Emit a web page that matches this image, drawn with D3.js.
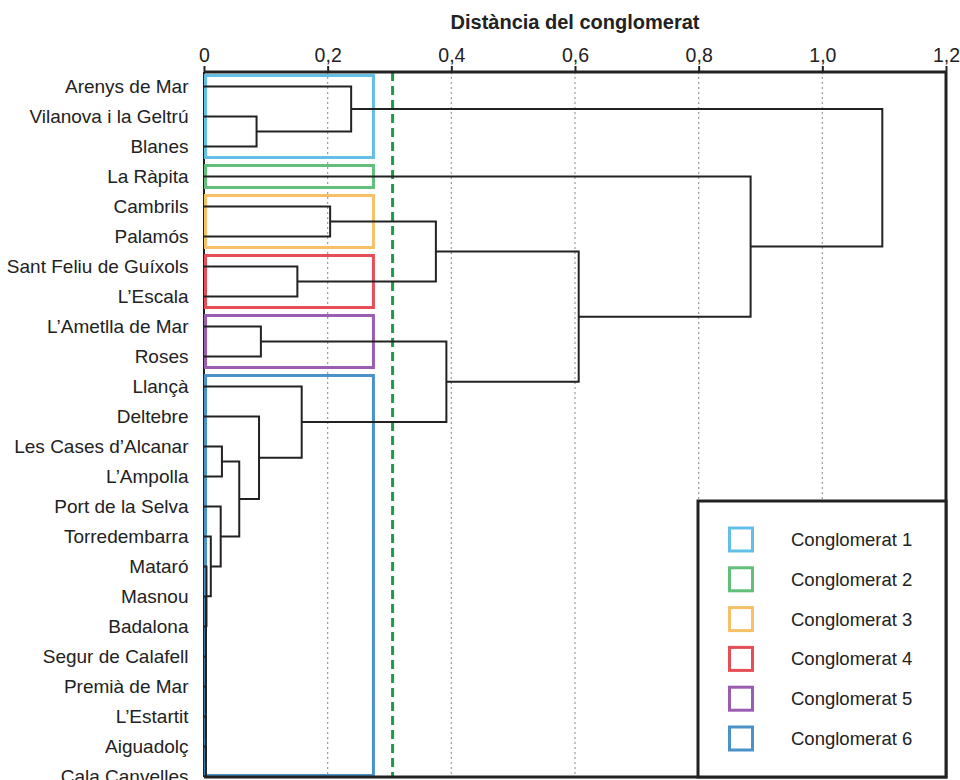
<!DOCTYPE html>
<html>
<head>
<meta charset="utf-8">
<script src="https://cdn.jsdelivr.net/npm/d3@7"></script>
<style>
  body { margin: 0; background: #fff; }
  text { font-family: "Liberation Sans", Arial, sans-serif; fill: #222; }
</style>
</head>
<body>
<svg id="chart" width="960" height="780"></svg>
<script>
// Municipalities in dendrogram order (top to bottom)
const leaves = [
  "Arenys de Mar", "Vilanova i la Geltrú", "Blanes", "La Ràpita", "Cambrils",
  "Palamós", "Sant Feliu de Guíxols", "L’Escala", "L’Ametlla de Mar", "Roses",
  "Llançà", "Deltebre", "Les Cases d’Alcanar", "L’Ampolla", "Port de la Selva",
  "Torredembarra", "Mataró", "Masnou", "Badalona", "Segur de Calafell",
  "Premià de Mar", "L’Estartit", "Aiguadolç", "Cala Canvelles"
];

// Agglomeration steps: [member A, member B, distance]; "n<i>" is the i-th step
const joins = [
  ["Aiguadolç", "Cala Canvelles", 0.003],
  ["L’Estartit", "n0", 0.003],
  ["Premià de Mar", "n1", 0.003],
  ["Segur de Calafell", "n2", 0.003],
  ["Badalona", "n3", 0.003],
  ["Masnou", "n4", 0.003],
  ["Mataró", "n5", 0.004],
  ["Torredembarra", "n6", 0.011],
  ["Port de la Selva", "n7", 0.027],
  ["Les Cases d’Alcanar", "L’Ampolla", 0.029],
  ["n9", "n8", 0.057],
  ["Deltebre", "n10", 0.089],
  ["Llançà", "n11", 0.158],
  ["L’Ametlla de Mar", "Roses", 0.092],
  ["n13", "n12", 0.392],
  ["Sant Feliu de Guíxols", "L’Escala", 0.151],
  ["Cambrils", "Palamós", 0.204],
  ["n16", "n15", 0.375],
  ["n17", "n14", 0.606],
  ["La Ràpita", "n18", 0.884],
  ["Vilanova i la Geltrú", "Blanes", 0.085],
  ["Arenys de Mar", "n20", 0.238],
  ["n21", "n19", 1.097]
];

// Cluster membership at the cut
const clusterNames = ["Conglomerat 1", "Conglomerat 2", "Conglomerat 3",
                      "Conglomerat 4", "Conglomerat 5", "Conglomerat 6"];
const clusterFirst = ["Arenys de Mar", "La Ràpita", "Cambrils",
                      "Sant Feliu de Guíxols", "L’Ametlla de Mar", "Llançà"];
const clusterLast  = ["Blanes", "La Ràpita", "Palamós",
                      "L’Escala", "Roses", "Cala Canvelles"];
const clusterColors = ["#62bfe6", "#62bf7a", "#f6c067", "#e64d57", "#9a5db2", "#4a92c8"];
const clusterReach = 0.274;
const cutDistance = 0.305;

const tickValues = [0, 0.2, 0.4, 0.6, 0.8, 1.0, 1.2];
const axisTitle = "Distància del conglomerat";

// ---- layout ----
const plotL = 204, plotR = 946, plotT = 72, plotB = 777;
const svg = d3.select("#chart");

const x = d3.scaleLinear().domain([0, 1.2]).range([plotL, plotR]);
const y = d3.scalePoint().domain(leaves).range([86.5, 776.5]);

// node positions
const pos = {};
leaves.forEach(l => pos[l] = { y: y(l), h: 0 });
joins.forEach((j, i) => {
  const a = pos[j[0]], b = pos[j[1]];
  pos["n" + i] = { y: (a.y + b.y) / 2, h: j[2] };
});

// vertical dotted grid
svg.append("g")
  .selectAll("line")
  .data(tickValues.slice(1, -1))
  .join("line")
  .attr("x1", d => x(d)).attr("x2", d => x(d))
  .attr("y1", plotT).attr("y2", plotB)
  .attr("stroke", "#9a9a9a").attr("stroke-width", 1.2)
  .attr("stroke-dasharray", "2,3");

// cut-off line
svg.append("line")
  .attr("x1", x(cutDistance)).attr("x2", x(cutDistance))
  .attr("y1", plotT).attr("y2", plotB)
  .attr("stroke", "#1f9a48").attr("stroke-width", 3)
  .attr("stroke-dasharray", "9,5");

// left frame edge
svg.append("line")
  .attr("x1", plotL).attr("x2", plotL).attr("y1", plotT).attr("y2", plotB)
  .attr("stroke", "#222").attr("stroke-width", 2);

// cluster boxes
const pad = 11;
svg.append("g")
  .selectAll("rect")
  .data(clusterNames)
  .join("rect")
  .attr("x", x(0) + 1.5)
  .attr("y", (d, i) => y(clusterFirst[i]) - pad)
  .attr("width", x(clusterReach) - x(0) - 1.5)
  .attr("height", (d, i) => Math.min(y(clusterLast[i]) + pad, plotB - 1.5) - (y(clusterFirst[i]) - pad))
  .attr("fill", "none")
  .attr("stroke", (d, i) => clusterColors[i])
  .attr("stroke-width", 3);

// dendrogram links
svg.append("g")
  .selectAll("path")
  .data(joins)
  .join("path")
  .attr("d", j => {
    const a = pos[j[0]], b = pos[j[1]];
    return `M${x(a.h)},${a.y}H${x(j[2])}V${b.y}H${x(b.h)}`;
  })
  .attr("fill", "none")
  .attr("stroke", "#222")
  .attr("stroke-width", 2);

// leaf labels
svg.append("g")
  .selectAll("text")
  .data(leaves)
  .join("text")
  .attr("x", 188.5)
  .attr("y", d => y(d))
  .attr("dy", "0.35em")
  .attr("text-anchor", "end")
  .attr("font-size", 19)
  .text(d => d);

// top axis
const axis = d3.axisTop(x)
  .tickValues(tickValues)
  .tickSize(6)
  .tickPadding(4)
  .tickFormat(d => d === 0 ? "0" : d.toFixed(1).replace(".", ","));
const gAxis = svg.append("g").attr("transform", `translate(0,${plotT})`).call(axis);
gAxis.select(".domain").attr("stroke", "#222").attr("stroke-width", 3)
  .attr("d", `M${plotL},0H${plotR}`);
gAxis.selectAll(".tick line").attr("stroke", "#222").attr("stroke-width", 2);
gAxis.selectAll(".tick text")
  .attr("font-size", 19.5)
  .attr("font-family", "'Liberation Sans', Arial, sans-serif")
  .attr("fill", "#222");

// axis title
svg.append("text")
  .attr("x", (plotL + plotR) / 2)
  .attr("y", 29)
  .attr("text-anchor", "middle")
  .attr("font-size", 20)
  .attr("font-weight", "bold")
  .text(axisTitle);

// right and bottom frame edges
svg.append("path")
  .attr("d", `M${plotR},${plotT}V${plotB}H${plotL}`)
  .attr("fill", "none").attr("stroke", "#222").attr("stroke-width", 3);

// legend
const lg = svg.append("g");
lg.append("rect")
  .attr("x", 698).attr("y", 501)
  .attr("width", plotR - 698).attr("height", plotB - 501)
  .attr("fill", "#fff").attr("stroke", "#222").attr("stroke-width", 3);
const ly = d3.scalePoint().domain(clusterNames).range([539.5, 738.5]);
lg.selectAll("rect.sw")
  .data(clusterNames)
  .join("rect")
  .attr("class", "sw")
  .attr("x", 729.5).attr("y", d => ly(d) - 11.5)
  .attr("width", 23).attr("height", 23)
  .attr("fill", "none")
  .attr("stroke", (d, i) => clusterColors[i])
  .attr("stroke-width", 3);
lg.selectAll("text")
  .data(clusterNames)
  .join("text")
  .attr("x", 791).attr("y", d => ly(d))
  .attr("dy", "0.35em")
  .attr("font-size", 18.5)
  .text(d => d);
</script>
</body>
</html>
